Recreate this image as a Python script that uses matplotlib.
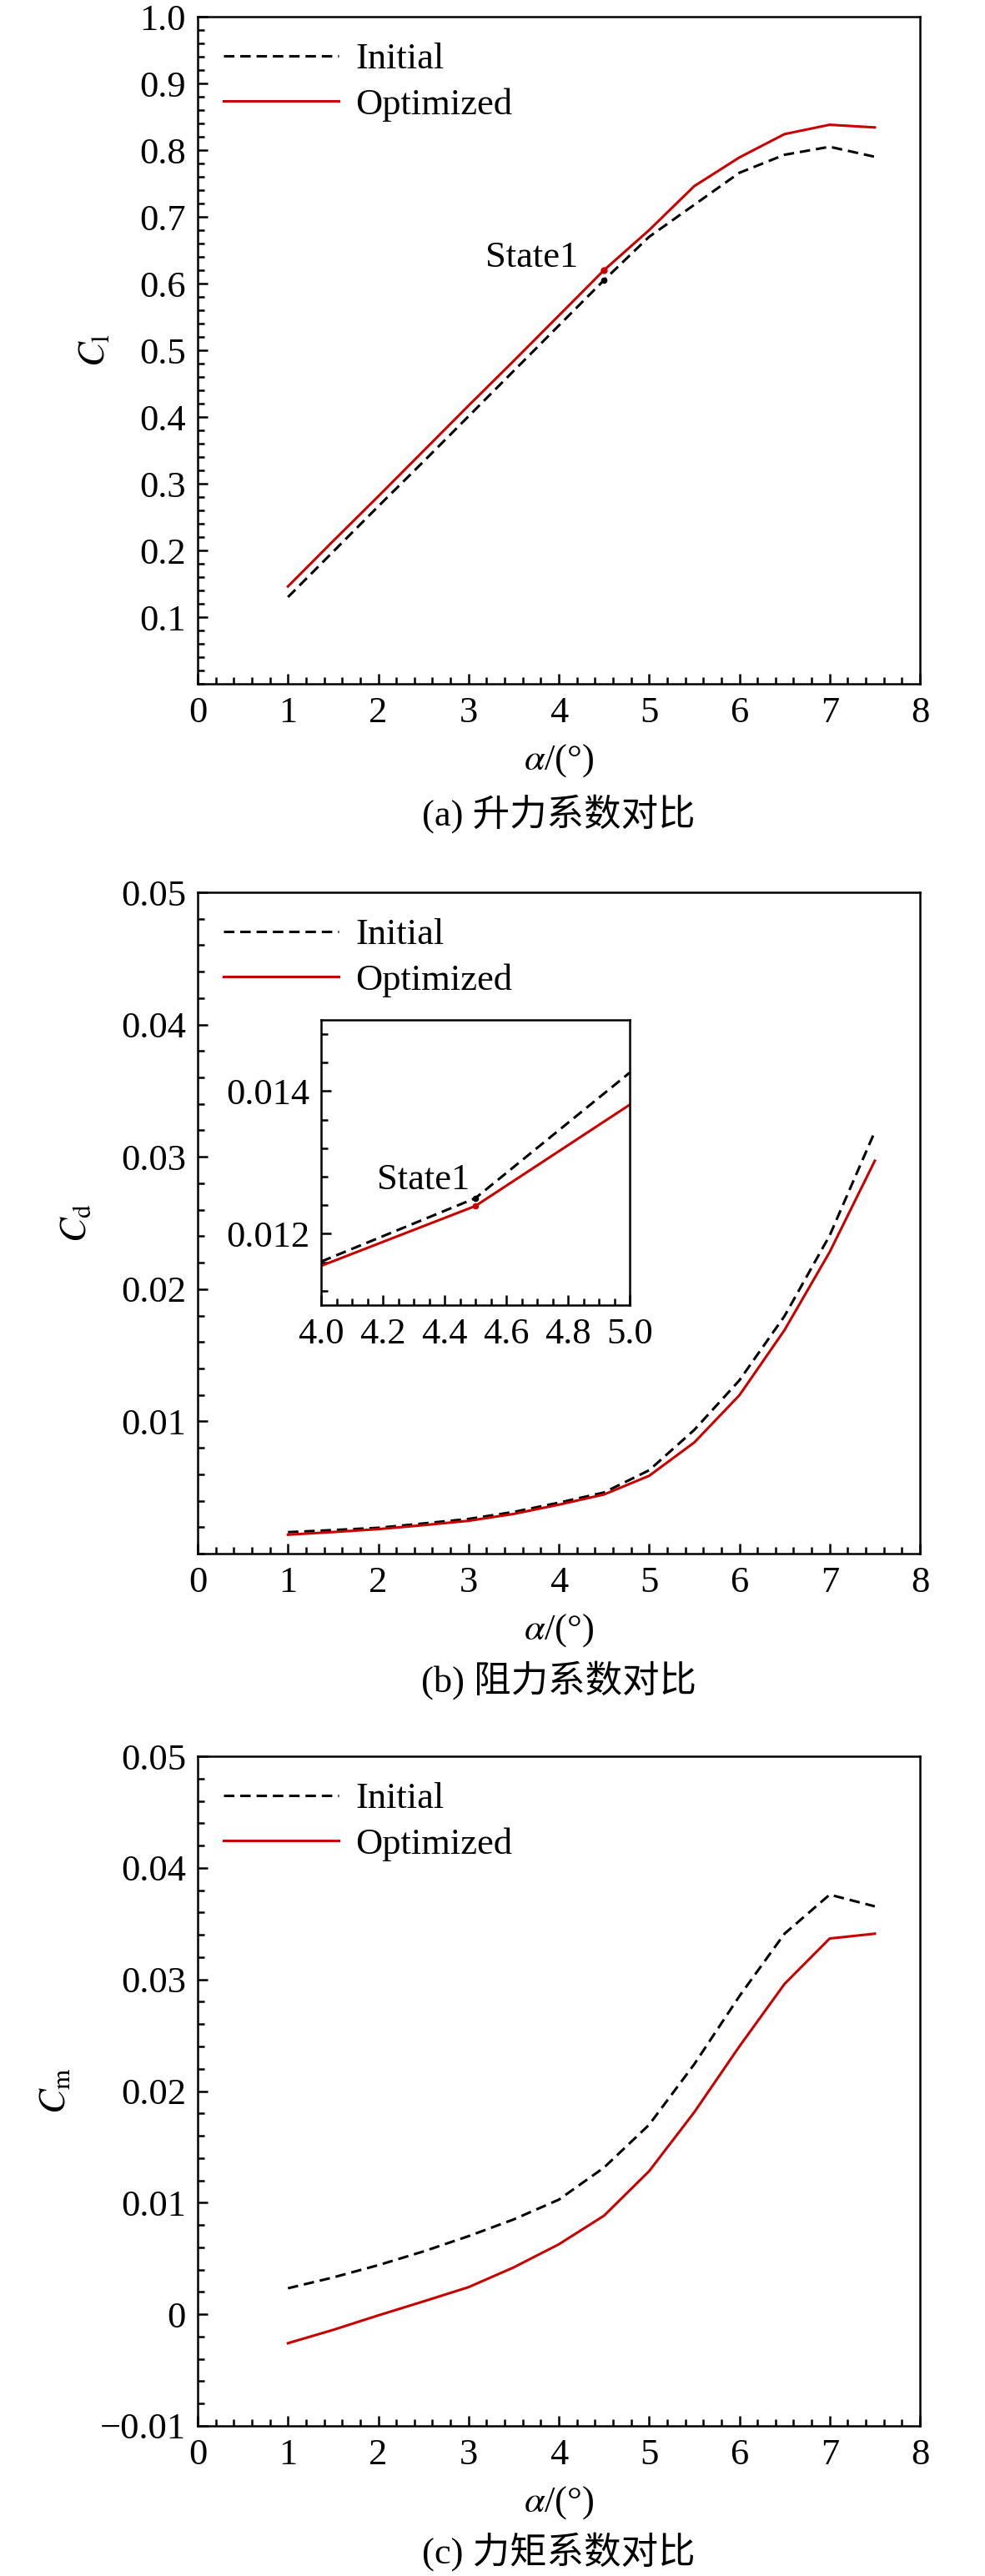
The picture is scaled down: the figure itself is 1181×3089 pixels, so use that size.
import numpy as np
import matplotlib
matplotlib.use('Agg')
import matplotlib.pyplot as plt
from matplotlib.ticker import MultipleLocator, FormatStrFormatter, FuncFormatter

# === data ===
alpha = [1.0, 1.5, 2.0, 2.5, 3.0, 3.5, 4.0, 4.5, 5.0, 5.5, 6.0, 6.5, 7.0, 7.5]

cl_initial = [0.130, 0.198, 0.266, 0.333, 0.401, 0.469, 0.537, 0.605,
              0.670, 0.718, 0.766, 0.793, 0.805, 0.790]
cl_optimized = [0.146, 0.214, 0.281, 0.349, 0.417, 0.484, 0.552, 0.620,
                0.680, 0.746, 0.789, 0.824, 0.838, 0.834]

cd_initial = [0.00162, 0.00178, 0.00195, 0.00228, 0.00262, 0.00315, 0.00385, 0.00462,
              0.00630, 0.00935, 0.01310, 0.01796, 0.02405, 0.03190]
cd_optimized = [0.00143, 0.00163, 0.00185, 0.00215, 0.00248, 0.00300, 0.00370, 0.00447,
                0.00588, 0.00840, 0.01197, 0.01690, 0.02280, 0.02970]

cm_initial = [0.00233, 0.0033, 0.0044, 0.00563, 0.0070, 0.0085, 0.01027, 0.01314,
              0.01698, 0.0224, 0.0285, 0.0341, 0.0376, 0.03655]
cm_optimized = [-0.00259, -0.0014, -0.0001, 0.00115, 0.00243, 0.0042, 0.00627, 0.00883,
                0.01282, 0.0181, 0.0240, 0.0296, 0.03367, 0.0341]

# inset of the drag plot around State1
inset_alpha = [4.0, 4.5, 5.0]
inset_cd_initial = [0.01161, 0.01250, 0.01426]
inset_cd_optimized = [0.01155, 0.01239, 0.01381]

state_alpha = 4.5
state_idx = alpha.index(state_alpha)
inset_state_idx = inset_alpha.index(state_alpha)

captions = ['(a) 升力系数对比', '(b) 阻力系数对比', '(c) 力矩系数对比']

# === style ===
plt.rcParams['font.family'] = ['Liberation Serif', 'Noto Sans CJK SC']
plt.rcParams['mathtext.fontset'] = 'stix'
plt.rcParams['font.size'] = 32
plt.rcParams['axes.linewidth'] = 1.8

RED = '#c80000'
FS = 32
LW = 2.2
DASH = (4.1, 2.3)


def style_axes(ax):
    ax.tick_params(which='both', direction='in', top=False, right=False,
                   width=1.8, labelsize=FS)
    ax.tick_params(which='major', length=8.6)
    ax.tick_params(which='minor', length=5.5)
    ax.tick_params(axis='x', pad=10.5)
    ax.tick_params(axis='y', pad=10)


def draw_lines(ax, x, y_init, y_opt, label=True):
    ax.plot(x, y_init, color='black', lw=LW, dashes=DASH,
            label='Initial' if label else None)
    ax.plot(x, y_opt, color=RED, lw=LW, label='Optimized' if label else None)


def add_legend(ax):
    ax.legend(loc='upper left', frameon=False, fontsize=FS, handlelength=3.1,
              handletextpad=0.45, labelspacing=0.32, borderpad=0.0,
              borderaxespad=0.7)


def x_axis(ax):
    ax.set_xlim(0, 8)
    ax.xaxis.set_major_locator(MultipleLocator(1))
    ax.xaxis.set_minor_locator(MultipleLocator(0.2))
    ax.set_xlabel(r'$\alpha$/(°)', fontsize=FS, labelpad=11)


W, H = 1181, 3089
fig = plt.figure(figsize=(W / 100, H / 100), dpi=100)

left = 237 / W
width = 866 / W

# ---- (a) lift ----
ax1 = fig.add_axes([left, 1 - 820 / H, width, 800 / H])
draw_lines(ax1, alpha, cl_initial, cl_optimized)
ax1.plot(alpha[state_idx], cl_initial[state_idx], 'o', color='black', ms=4.5)
ax1.plot(alpha[state_idx], cl_optimized[state_idx], 'o', color=RED, ms=5)
ax1.text(3.70, 0.639, 'State1', fontsize=FS, ha='center', va='center')
ax1.set_ylim(0, 1.0)
ax1.set_yticks(np.arange(1, 11) / 10)
ax1.yaxis.set_major_formatter(FormatStrFormatter('%.1f'))
ax1.yaxis.set_minor_locator(MultipleLocator(0.02))
ax1.set_ylabel(r'$C_{\mathrm{l}}$', fontsize=FS, labelpad=24)
x_axis(ax1)
style_axes(ax1)
add_legend(ax1)

# ---- (b) drag ----
ax2 = fig.add_axes([left, 1 - 1863 / H, width, 793 / H])
draw_lines(ax2, alpha, cd_initial, cd_optimized)
ax2.set_ylim(0, 0.05)
ax2.set_yticks(np.arange(1, 6) / 100)
ax2.yaxis.set_major_formatter(FormatStrFormatter('%.2f'))
ax2.yaxis.set_minor_locator(MultipleLocator(0.002))
ax2.set_ylabel(r'$C_{\mathrm{d}}$', fontsize=FS, labelpad=24)
x_axis(ax2)
style_axes(ax2)
add_legend(ax2)

axin = fig.add_axes([385 / W, 1 - 1565 / H, 370 / W, 342 / H])
draw_lines(axin, inset_alpha, inset_cd_initial, inset_cd_optimized, label=False)
axin.plot(inset_alpha[inset_state_idx], inset_cd_initial[inset_state_idx], 'o',
          color='black', ms=4.5)
axin.plot(inset_alpha[inset_state_idx], inset_cd_optimized[inset_state_idx], 'o',
          color=RED, ms=4.5)
axin.text(4.332, 0.01275, 'State1', fontsize=FS, ha='center', va='center')
axin.set_xlim(4.0, 5.0)
axin.set_ylim(0.011, 0.015)
axin.xaxis.set_major_locator(MultipleLocator(0.2))
axin.xaxis.set_minor_locator(MultipleLocator(0.05))
axin.xaxis.set_major_formatter(FormatStrFormatter('%.1f'))
axin.set_yticks([0.012, 0.014])
axin.yaxis.set_minor_locator(MultipleLocator(0.0004))
axin.yaxis.set_major_formatter(FormatStrFormatter('%.3f'))
style_axes(axin)

# ---- (c) moment ----
ax3 = fig.add_axes([left, 1 - 2909 / H, width, 803 / H])
draw_lines(ax3, alpha, cm_initial, cm_optimized)
ax3.set_ylim(-0.01, 0.05)
ax3.set_yticks(np.arange(-1, 6) / 100)


def cm_fmt(v, pos):
    if abs(v) < 1e-9:
        return '0'
    s = '%.2f' % abs(v)
    return ('\u2212' + s) if v < 0 else s


ax3.yaxis.set_major_formatter(FuncFormatter(cm_fmt))
ax3.yaxis.set_minor_locator(MultipleLocator(0.002))
ax3.set_ylabel(r'$C_{\mathrm{m}}$', fontsize=FS, labelpad=24)
x_axis(ax3)
style_axes(ax3)
add_legend(ax3)

# captions
for cap, yc in zip(captions, [976, 2015, 3060]):
    fig.text(670 / W, 1 - yc / H, cap, fontsize=FS, ha='center', va='center')

fig.savefig('out.png', dpi=100)
